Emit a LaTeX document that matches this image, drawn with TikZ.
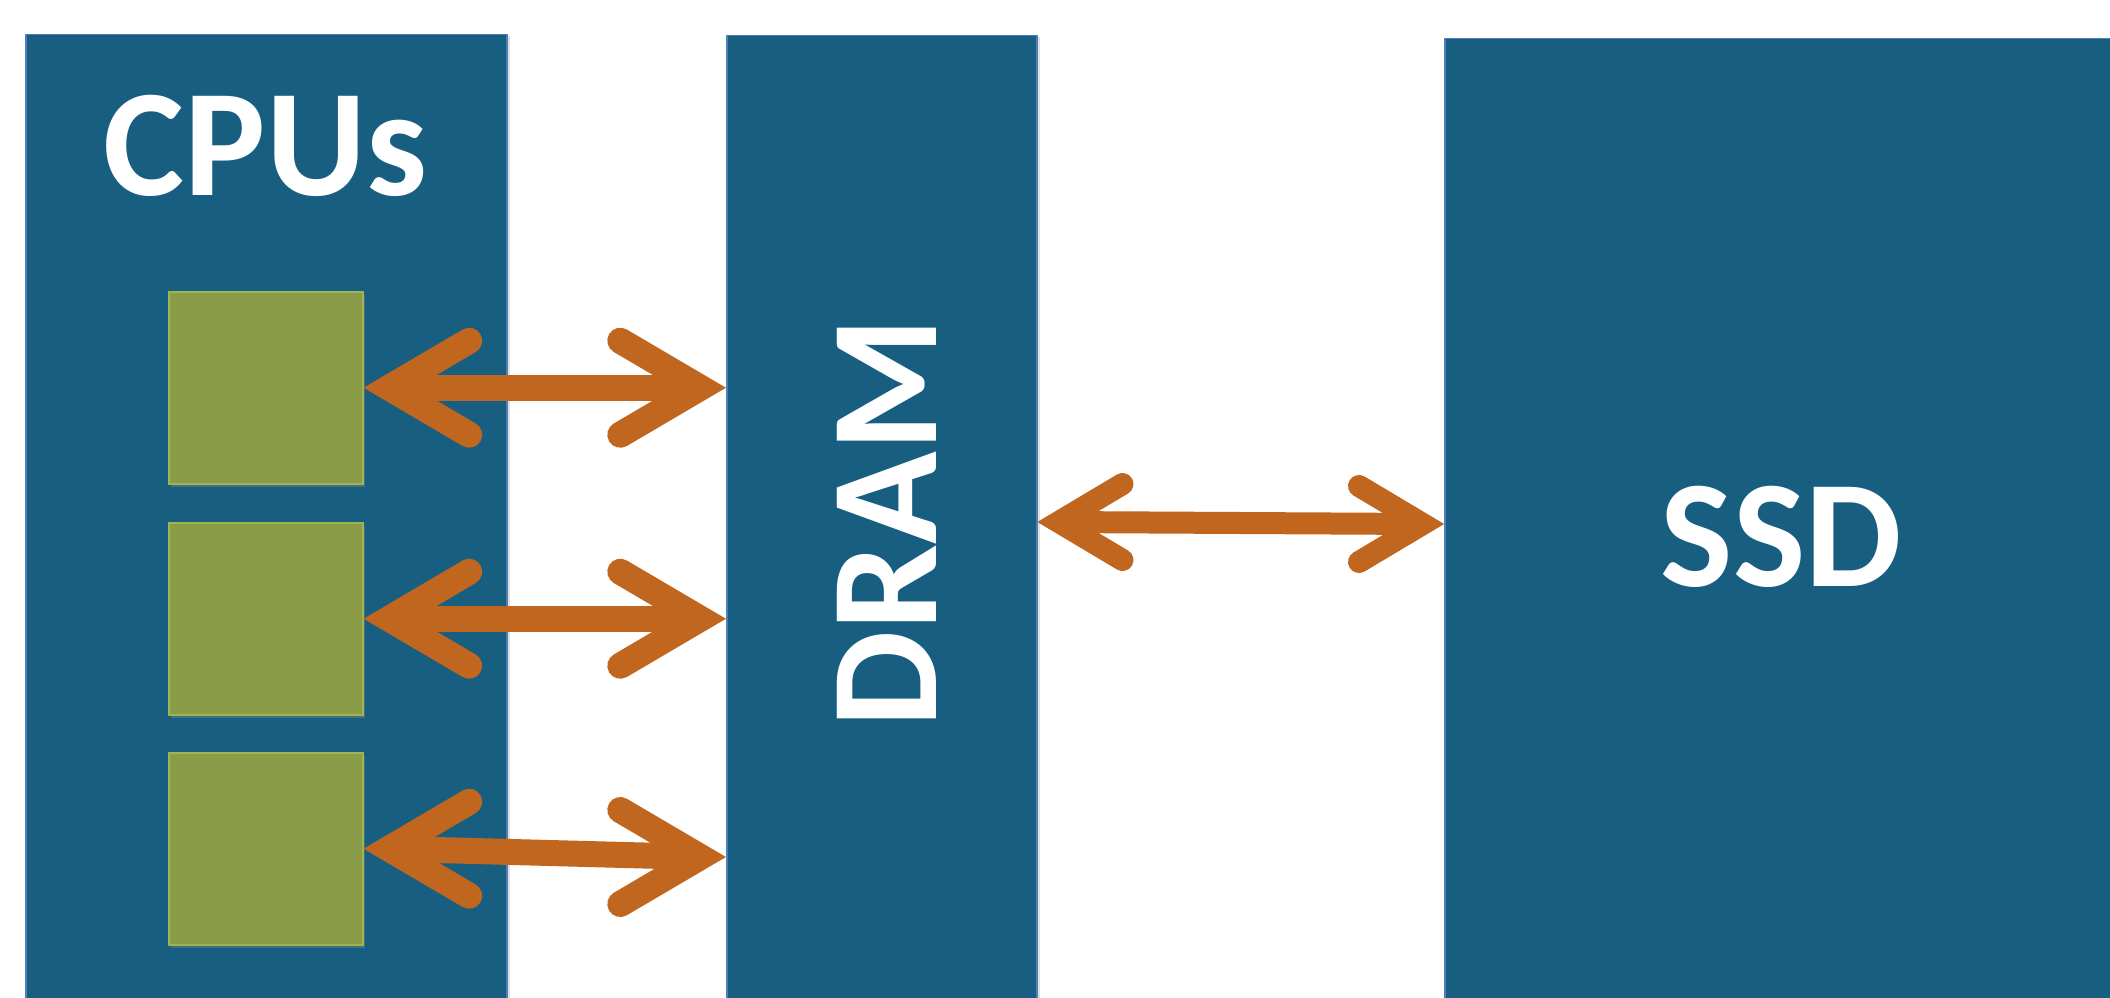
\documentclass[tikz,border=0pt]{standalone}
\usepackage{fontspec}
\setmainfont{Carlito}
\usetikzlibrary{shadows}
\definecolor{panelc}{HTML}{175E81}
\definecolor{paneledge}{HTML}{4F7FBA}
\definecolor{greenc}{HTML}{8B9C48}
\definecolor{greenedge}{HTML}{9DB552}
\definecolor{arrowc}{HTML}{C1661F}
\tikzset{
  panel/.style={rectangle, fill=panelc, draw=paneledge, line width=1.5pt, inner sep=0pt,
    anchor=north west, drop shadow={shadow xshift=3pt, shadow yshift=-1pt, opacity=0.25}},
  core/.style={rectangle, fill=greenc, draw=greenedge, line width=1.5pt, inner sep=0pt,
    anchor=north west, minimum width=194pt, minimum height=192pt,
    drop shadow={shadow xshift=2pt, shadow yshift=-3pt, opacity=0.45}},
  label/.style={text=white, font=\bfseries\fontsize{153}{160}\selectfont, inner sep=0pt, anchor=base},
  shaftline/.style={draw=arrowc, line cap=butt},
  barbline/.style={draw=arrowc, line cap=round, line join=miter, miter limit=10}
}
% #1 left tip, #2 right tip (coordinate names), #3 line width, #4 miter offset, #5 barb length, #6 barb half height
\newcommand{\twowayarrow}[6]{%
  \draw[shaftline, line width=#3pt] ([xshift=#4pt]#1) -- ([xshift=-#4pt]#2);
  \draw[barbline, line width=#3pt] ([shift={(#4+#5,-#6)}]#1) -- ([xshift=#4pt]#1) -- ([shift={(#4+#5,#6)}]#1);
  \draw[barbline, line width=#3pt] ([shift={(-#4-#5,-#6)}]#2) -- ([xshift=-#4pt]#2) -- ([shift={(-#4-#5,#6)}]#2);
}
\begin{document}
\begin{tikzpicture}[x=1pt, y=-1pt]
\useasboundingbox (0,0) rectangle (2110,998);
\clip (0,0) rectangle (2110,998);
\fill[white] (0,0) rectangle (2110,998);
% panels
\node[panel, minimum width=481pt, minimum height=1000pt] (cpus) at (25,34) {};
\node[panel, minimum width=310pt, minimum height=1000pt] (dram) at (726,35) {};
\node[panel, minimum width=700pt, minimum height=1000pt] (ssd) at (1444,38) {};
% labels
\node[label] (cpulabel) at (265.5,195) {CPUs};
\node[label, rotate=90] (dramlabel) at (936,522.5) {DRAM};
\node[label] (ssdlabel) at (1781.5,586) {SSD};
% cores
\node[core] (c1) at (168,291) {};
\node[core] (c2) at (168,522) {};
\node[core] (c3) at (168,752) {};
% arrow end points
\coordinate (e1) at (c1.east);
\coordinate (e2) at (c2.east);
\coordinate (e3) at (c3.east);
\coordinate (d1) at (dram.west |- c1.east);
\coordinate (d2) at (dram.west |- c2.east);
\coordinate (y3) at (0,857);
\coordinate (d3) at (dram.west |- y3);
\coordinate (ya) at (0,522);
\coordinate (yb) at (0,524);
\coordinate (da) at (dram.east |- ya);
\coordinate (sb) at (ssd.west |- yb);
% connectors
\twowayarrow{e1}{d1}{26}{25.7}{80}{47}
\twowayarrow{e2}{d2}{26}{25.7}{80}{47}
\twowayarrow{e3}{d3}{26}{25.7}{80}{47}
\twowayarrow{da}{sb}{22}{21.3}{63.7}{38}
\end{tikzpicture}
\end{document}
